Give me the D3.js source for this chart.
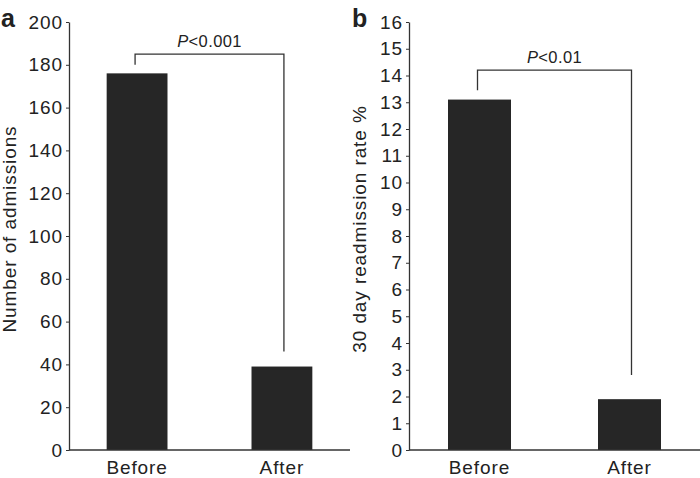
<!DOCTYPE html>
<html><head><meta charset="utf-8">
<script src="https://cdn.jsdelivr.net/npm/d3@7"></script>
<style>
body{margin:0;background:#fff;}
svg text{font-family:"Liberation Sans",Arial,Helvetica,sans-serif;fill:#222;}
</style></head>
<body><svg id="c" width="700" height="478"></svg>
<script>
const categories = ["Before", "After"];
const admissions = [176, 39];
const readmissionRate = [13.1, 1.9];
const ticksA = [0,20,40,60,80,100,120,140,160,180,200];
const ticksB = [0,1,2,3,4,5,6,7,8,9,10,11,12,13,14,15,16];
const pLabels = ["<0.001", "<0.01"];
const bracketA = [180, 185, 46];
const bracketB = [13.45, 14.2, 2.8];

const svg = d3.select("#c");
const barColor = "#262626", axisColor = "#333";
const fs = "19px", ls = "0.9px";

const panels = [
  {letter:"a", values:admissions, ticks:ticksA, max:200, title:"Number of admissions",
   x0:69, x1:350, top:22, bottom:450, p:pLabels[0], br:bracketA, titleX:16, letterX:1},
  {letter:"b", values:readmissionRate, ticks:ticksB, max:16, title:"30 day readmission rate %",
   x0:409, x1:700, top:22, bottom:450, p:pLabels[1], br:bracketB, titleX:366, letterX:352}
];

panels.forEach(pn => {
  const y = d3.scaleLinear().domain([0, pn.max]).range([pn.bottom, pn.top]);
  const x = d3.scaleBand().domain(categories).range([pn.x0, pn.x1]).paddingInner(0.58).paddingOuter(0.26);
  const g = svg.append("g");

  g.selectAll("rect.bar").data(pn.values).enter().append("rect")
    .attr("x", (d,i) => x(categories[i]))
    .attr("width", x.bandwidth())
    .attr("y", d => y(d))
    .attr("height", d => y(0) - y(d))
    .attr("fill", barColor);

  const ax = g.append("g").attr("transform", `translate(${pn.x0},0)`)
    .call(d3.axisLeft(y).tickValues(pn.ticks).tickSize(3).tickSizeOuter(0).tickPadding(3).tickFormat(d3.format("d")));
  ax.select(".domain").attr("stroke", axisColor).attr("stroke-width", 1.3);
  ax.selectAll(".tick line").attr("stroke", axisColor);
  ax.selectAll(".tick text").style("font-size", fs).style("letter-spacing", ls).attr("fill", "#222");

  g.append("line").attr("x1", pn.x0).attr("x2", pn.x1).attr("y1", y(0)).attr("y2", y(0))
    .attr("stroke", axisColor).attr("stroke-width", 1.5);

  g.selectAll("text.cat").data(categories).enter().append("text")
    .attr("x", d => x(d) + x.bandwidth()/2).attr("y", pn.bottom + 23.5)
    .attr("text-anchor", "middle").style("font-size", fs).style("letter-spacing", ls).text(d => d);

  // significance bracket
  const cx1 = x(categories[0]) + x.bandwidth()/2 - 2;
  const cx2 = x(categories[1]) + x.bandwidth()/2 + 2;
  g.append("path")
    .attr("d", `M${cx1},${y(pn.br[0])}V${y(pn.br[1])}H${cx2}V${y(pn.br[2])}`)
    .attr("fill", "none").attr("stroke", axisColor).attr("stroke-width", 1.3);
  const pt = g.append("text").attr("x", (cx1+cx2)/2).attr("y", y(pn.br[1]) - 7)
    .attr("text-anchor", "middle").style("font-size", "16.5px").style("letter-spacing", "0.4px");
  pt.append("tspan").style("font-style", "italic").text("P");
  pt.append("tspan").text(pn.p);

  g.append("text").attr("transform", `translate(${pn.titleX},229) rotate(-90)`)
    .attr("text-anchor", "middle").style("font-size", fs).style("letter-spacing", ls).text(pn.title);

  g.append("text").attr("x", pn.letterX).attr("y", 27)
    .style("font-size", "25px").style("font-weight", "bold").attr("fill", "#111").text(pn.letter);
});
</script></body></html>
